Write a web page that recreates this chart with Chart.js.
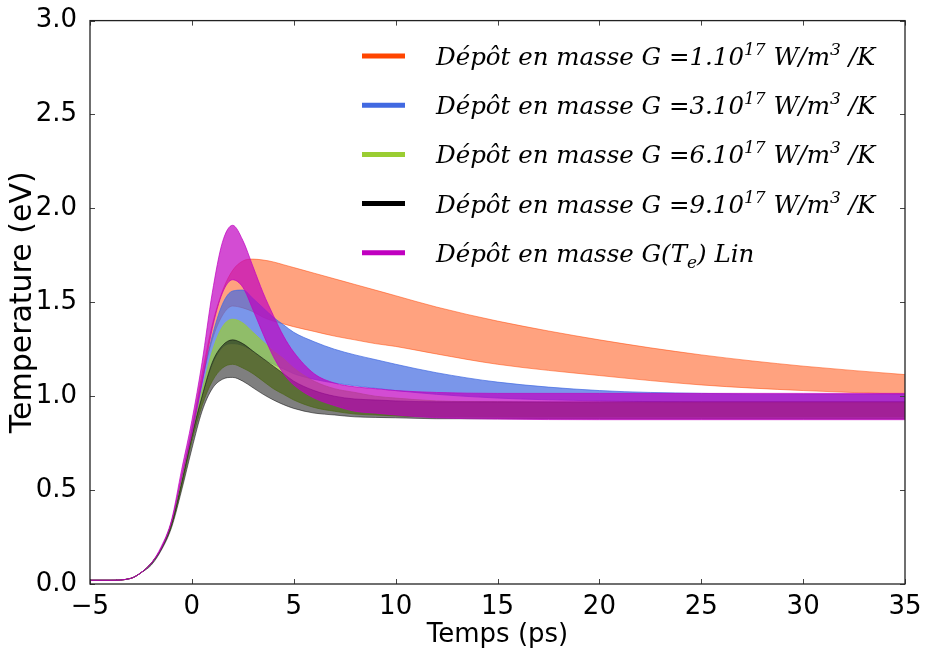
<!DOCTYPE html>
<html>
<head>
<meta charset="utf-8">
<script src="https://cdn.jsdelivr.net/npm/chart.js@4/dist/chart.umd.min.js"></script>
<style>
  html, body { margin: 0; padding: 0; background: #fff; }
  #wrap { width: 925px; height: 655px; }
</style>
</head>
<body>
<div id="wrap"><canvas id="chart" width="925" height="655"></canvas></div>
<script>
/* données */
const times = [-5, -4, -3, -2.5, -2, -1.5, -1, -0.5, 0, 0.5, 1, 1.5, 2, 2.5, 3, 3.5, 4, 4.5, 5, 6, 7, 8, 9, 10, 12, 15, 20, 25, 30, 35];

const g1Upper = [0.02, 0.02, 0.03, 0.06, 0.11, 0.19, 0.33, 0.57, 0.83, 1.12, 1.38, 1.56, 1.67, 1.72, 1.73, 1.725, 1.715, 1.70, 1.685, 1.655, 1.625, 1.595, 1.565, 1.535, 1.475, 1.40, 1.30, 1.22, 1.16, 1.115];
const g1Lower = [0.02, 0.02, 0.03, 0.06, 0.11, 0.19, 0.32, 0.55, 0.80, 1.08, 1.30, 1.43, 1.48, 1.47, 1.45, 1.42, 1.40, 1.385, 1.37, 1.345, 1.32, 1.30, 1.28, 1.265, 1.225, 1.17, 1.11, 1.06, 1.03, 1.01];

const g3Upper = [0.02, 0.02, 0.03, 0.06, 0.11, 0.19, 0.33, 0.56, 0.82, 1.08, 1.32, 1.49, 1.56, 1.565, 1.52, 1.47, 1.42, 1.38, 1.34, 1.29, 1.25, 1.22, 1.195, 1.17, 1.125, 1.075, 1.03, 1.015, 1.01, 1.01];
const g3Lower = [0.02, 0.02, 0.03, 0.06, 0.11, 0.19, 0.32, 0.54, 0.78, 1.00, 1.17, 1.26, 1.28, 1.27, 1.24, 1.20, 1.17, 1.145, 1.12, 1.09, 1.07, 1.055, 1.042, 1.03, 1.01, 0.99, 0.975, 0.97, 0.97, 0.97];

const g6Upper = [0.02, 0.02, 0.03, 0.06, 0.11, 0.19, 0.33, 0.55, 0.80, 1.03, 1.24, 1.37, 1.41, 1.39, 1.34, 1.29, 1.24, 1.20, 1.15, 1.08, 1.04, 1.02, 1.00, 0.99, 0.975, 0.97, 0.965, 0.965, 0.965, 0.965];
const g6Lower = [0.02, 0.02, 0.03, 0.06, 0.11, 0.19, 0.31, 0.52, 0.76, 0.95, 1.08, 1.15, 1.17, 1.15, 1.12, 1.08, 1.04, 1.01, 0.98, 0.94, 0.92, 0.905, 0.90, 0.895, 0.89, 0.89, 0.89, 0.89, 0.89, 0.89];

const g9Upper = [0.02, 0.02, 0.03, 0.06, 0.11, 0.19, 0.32, 0.54, 0.79, 1.00, 1.18, 1.27, 1.30, 1.28, 1.24, 1.20, 1.16, 1.12, 1.08, 1.03, 1.00, 0.985, 0.98, 0.975, 0.97, 0.97, 0.97, 0.97, 0.97, 0.97];
const g9Lower = [0.02, 0.02, 0.03, 0.06, 0.10, 0.18, 0.30, 0.50, 0.72, 0.92, 1.04, 1.09, 1.10, 1.08, 1.045, 1.01, 0.98, 0.955, 0.935, 0.91, 0.90, 0.89, 0.887, 0.885, 0.88, 0.88, 0.88, 0.88, 0.88, 0.88];

const gLinUpper = [0.02, 0.02, 0.03, 0.06, 0.11, 0.20, 0.34, 0.61, 0.87, 1.18, 1.55, 1.82, 1.91, 1.83, 1.69, 1.55, 1.43, 1.32, 1.235, 1.12, 1.07, 1.05, 1.04, 1.03, 1.02, 1.015, 1.015, 1.015, 1.015, 1.015];
const gLinLower = [0.02, 0.02, 0.03, 0.06, 0.11, 0.19, 0.33, 0.57, 0.80, 1.07, 1.36, 1.55, 1.62, 1.58, 1.46, 1.33, 1.21, 1.12, 1.06, 0.99, 0.95, 0.92, 0.91, 0.90, 0.885, 0.878, 0.875, 0.875, 0.875, 0.875];

const xTicks = [-5, 0, 5, 10, 15, 20, 25, 30, 35];
const yTicks = [0.0, 0.5, 1.0, 1.5, 2.0, 2.5, 3.0];

const legendLabels = [
  "Dépôt en masse G =1.10^{17} W/m^{3} /K",
  "Dépôt en masse G =3.10^{17} W/m^{3} /K",
  "Dépôt en masse G =6.10^{17} W/m^{3} /K",
  "Dépôt en masse G =9.10^{17} W/m^{3} /K",
  "Dépôt en masse G(T_{e}) Lin"
];
const legendColors = ["#ff4500", "#4169e1", "#9acd32", "#000000", "#c000c0"];


/* bande = deux courbes, remplissage entre elles */
function band(upper, lower, fillColor) {
  const pts = arr => arr.map((v, i) => ({ x: times[i], y: v }));
  const common = {
    borderColor: fillColor,
    borderWidth: 1,
    pointRadius: 0,
    cubicInterpolationMode: "monotone"
  };
  return [
    Object.assign({ data: pts(upper), fill: "+1", backgroundColor: fillColor }, common),
    Object.assign({ data: pts(lower), fill: false }, common)
  ];
}

// le premier est dessiné au-dessus
const datasets = [
  ...band(gLinUpper, gLinLower, "rgba(192,0,192,0.7)"),
  ...band(g9Upper, g9Lower, "rgba(0,0,0,0.5)"),
  ...band(g6Upper, g6Lower, "rgba(154,205,50,0.7)"),
  ...band(g3Upper, g3Lower, "rgba(65,105,225,0.7)"),
  ...band(g1Upper, g1Lower, "rgba(255,69,0,0.5)")
];


/* cadre + graduations vers l'intérieur */
const framePlugin = {
  id: "frame",
  afterDraw(chart) {
    const { ctx, chartArea: a, scales } = chart;
    ctx.save();
    ctx.strokeStyle = "#444";
    ctx.lineWidth = 1;
    const len = 5;
    scales.x.ticks.forEach(t => {
      const px = Math.round(scales.x.getPixelForValue(t.value)) + 0.5;
      ctx.beginPath();
      ctx.moveTo(px, a.bottom); ctx.lineTo(px, a.bottom - len);
      ctx.moveTo(px, a.top); ctx.lineTo(px, a.top + len);
      ctx.stroke();
    });
    scales.y.ticks.forEach(t => {
      const py = Math.round(scales.y.getPixelForValue(t.value)) + 0.5;
      ctx.beginPath();
      ctx.moveTo(a.left, py); ctx.lineTo(a.left + len, py);
      ctx.moveTo(a.right, py); ctx.lineTo(a.right - len, py);
      ctx.stroke();
    });
    ctx.strokeStyle = "#222";
    ctx.lineWidth = 1.3;
    ctx.strokeRect(a.left, a.top, a.right - a.left, a.bottom - a.top);
    ctx.restore();
  }
};


/* légende dans le cadre, texte avec exposants / indices */
const legendPlugin = {
  id: "insideLegend",
  afterDraw(chart) {
    const ctx = chart.ctx;
    const fam = '"DejaVu Serif", serif';
    ctx.save();
    legendLabels.forEach((label, i) => {
      const y = 56 + i * 49.2;
      ctx.strokeStyle = legendColors[i];
      ctx.lineWidth = 5;
      ctx.beginPath();
      ctx.moveTo(362, y);
      ctx.lineTo(405, y);
      ctx.stroke();

      let x = 436;
      const base = y + 9;
      ctx.fillStyle = "#000";
      ctx.textBaseline = "alphabetic";
      const parts = label.match(/\^\{[^}]*\}|_\{[^}]*\}|[^^_]+/g);
      parts.forEach(p => {
        let txt = p, dy = 0, size = 24.5;
        if (p.startsWith("^{")) { txt = p.slice(2, -1); dy = -10; size = 17; }
        else if (p.startsWith("_{")) { txt = p.slice(2, -1); dy = 6; size = 17; }
        ctx.font = "italic " + size + "px " + fam;
        ctx.fillText(txt, x, base + dy);
        x += ctx.measureText(txt).width;
      });
    });
    ctx.restore();
  }
};


const tickFont = { family: "DejaVu Sans", size: 26 };

new Chart(document.getElementById("chart"), {
  type: "line",
  data: { datasets },
  options: {
    responsive: false,
    animation: false,
    devicePixelRatio: 1,
    layout: { padding: { top: 15, right: 20, left: 0, bottom: 0 } },
    plugins: {
      legend: { display: false },
      tooltip: { enabled: false }
    },
    scales: {
      x: {
        type: "linear",
        min: -5,
        max: 35,
        afterBuildTicks: s => { s.ticks = xTicks.map(v => ({ value: v })); },
        afterFit: s => { s.height = 71; },
        grid: { display: false },
        border: { display: false },
        ticks: {
          font: tickFont,
          color: "#000",
          padding: 0,
          maxRotation: 0,
          autoSkip: false,
          callback: v => String(v).replace("-", "\u2212")
        },
        title: {
          display: true,
          text: "Temps (ps)",
          font: tickFont,
          color: "#000",
          padding: { top: 0, bottom: 4 }
        }
      },
      y: {
        min: 0,
        max: 3,
        afterBuildTicks: s => { s.ticks = yTicks.map(v => ({ value: v })); },
        afterFit: s => { s.width = 90; },
        grid: { display: false },
        border: { display: false },
        ticks: {
          font: tickFont,
          color: "#000",
          padding: 5,
          callback: v => Number(v).toFixed(1)
        },
        title: {
          display: true,
          text: "Temperature (eV)",
          font: { family: "DejaVu Sans", size: 30 },
          color: "#000",
          padding: { top: 5, bottom: 0 }
        }
      }
    }
  },
  plugins: [framePlugin, legendPlugin]
});
</script>
</body>
</html>
